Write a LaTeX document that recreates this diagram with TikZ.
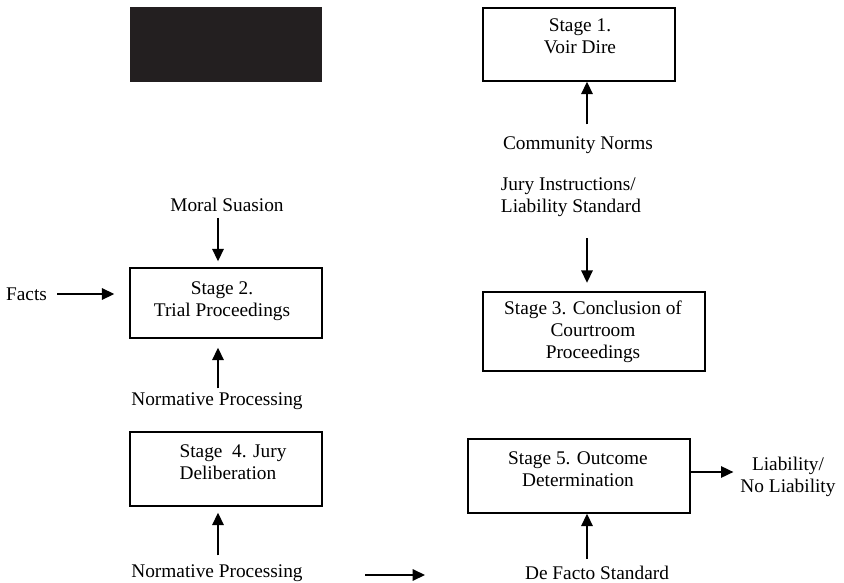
\documentclass[tikz,border=0pt]{standalone}
\usepackage{fontspec}
\setmainfont{Liberation Serif}
\usetikzlibrary{arrows.meta}

\definecolor{panel}{HTML}{231F20}

\tikzset{
  stagebox/.style={draw, rectangle, line width=0.8pt, minimum width=3.84cm},
  lbl/.style={align=center, inner sep=1pt, font=\fontsize{11pt}{12.5pt}\selectfont},
  arr/.style={-{Triangle[length=7pt,width=6.5pt]}, line width=0.8pt},
}

\begin{document}
\begin{tikzpicture}
    \useasboundingbox (0,0) rectangle (16.88,-11.66);

    % 遮挡块
    \fill[panel] (2.6,-0.14) rectangle (6.44,-1.64);

    % 列位置
    \coordinate (colL) at (4.36,0);
    \coordinate (colR) at (11.74,0);

    % 阶段框
    \node[stagebox, minimum height=1.46cm] (s1) at (11.58,-0.89) {};
    \node[stagebox, minimum height=1.40cm] (s2) at (4.52,-6.06) {};
    \node[stagebox, minimum width=4.44cm, minimum height=1.58cm] (s3) at (11.88,-6.63) {};
    \node[stagebox, minimum height=1.48cm] (s4) at (4.52,-9.38) {};
    \node[stagebox, minimum width=4.44cm, minimum height=1.48cm] (s5) at (11.58,-9.52) {};

    \node[lbl] (s1t) at (11.6,-0.72) {Stage 1.\\Voir Dire};
    \node[lbl] (s2t) at (4.44,-6.02) {Stage 2.\\Trial Proceedings};
    \node[lbl] (s3t) at (11.86,-6.64) {Stage 3. Conclusion of\\Courtroom\\Proceedings};
    \node[lbl, align=left] (s4t) at (4.66,-9.25) {Stage\ \ 4. Jury\\Deliberation};
    \node[lbl] (s5t) at (11.56,-9.38) {Stage 5. Outcome\\Determination};

    % 输入与输出
    \node[lbl] (cn) at (11.56,-2.90) {Community Norms};
    \node[lbl, align=left] (ji) at (11.42,-3.95) {Jury Instructions/\\Liability Standard};
    \node[lbl] (ms) at (4.54,-4.10) {Moral Suasion};
    \node[lbl] (facts) at (0.53,-5.88) {Facts};
    \node[lbl] (np1) at (4.34,-8.02) {Normative Processing};
    \node[lbl] (np2) at (4.34,-11.46) {Normative Processing};
    \node[lbl] (dfs) at (11.94,-11.46) {De Facto Standard};
    \node[lbl] (liab) at (15.76,-9.54) {Liability/\\No Liability};

    % 箭头
    \draw[arr, shorten <=0.2cm] (cn.north -| colR) -- (s1.south -| colR);
    \draw[arr, shorten <=0.38cm, shorten >=0.17cm] (ji.south -| colR) -- (s3.north -| colR);
    \draw[arr, shorten <=0.08cm, shorten >=0.12cm] (ms.south -| colL) -- (s2.north -| colL);
    \draw[arr, shorten <=0.16cm, shorten >=0.3cm] (facts.east) -- (facts.east -| s2.west);
    \draw[arr, shorten <=0.04cm, shorten >=0.18cm] (np1.north -| colL) -- (s2.south -| colL);
    \draw[arr, shorten <=0.14cm, shorten >=0.12cm] (np2.north -| colL) -- (s4.south -| colL);
    \draw[arr, shorten <=0.1cm] (dfs.north -| colR) -- (s5.south -| colR);
    \draw[arr, shorten >=0.1cm] ([yshift=0.08cm]s5.east) -- ([yshift=0.08cm]s5.east -| liab.west);

    \coordinate (fa) at (7.3,-11.5);
    \coordinate (fb) at (8.5,-11.5);
    \draw[arr] (fa) -- (fb);
\end{tikzpicture}
\end{document}
